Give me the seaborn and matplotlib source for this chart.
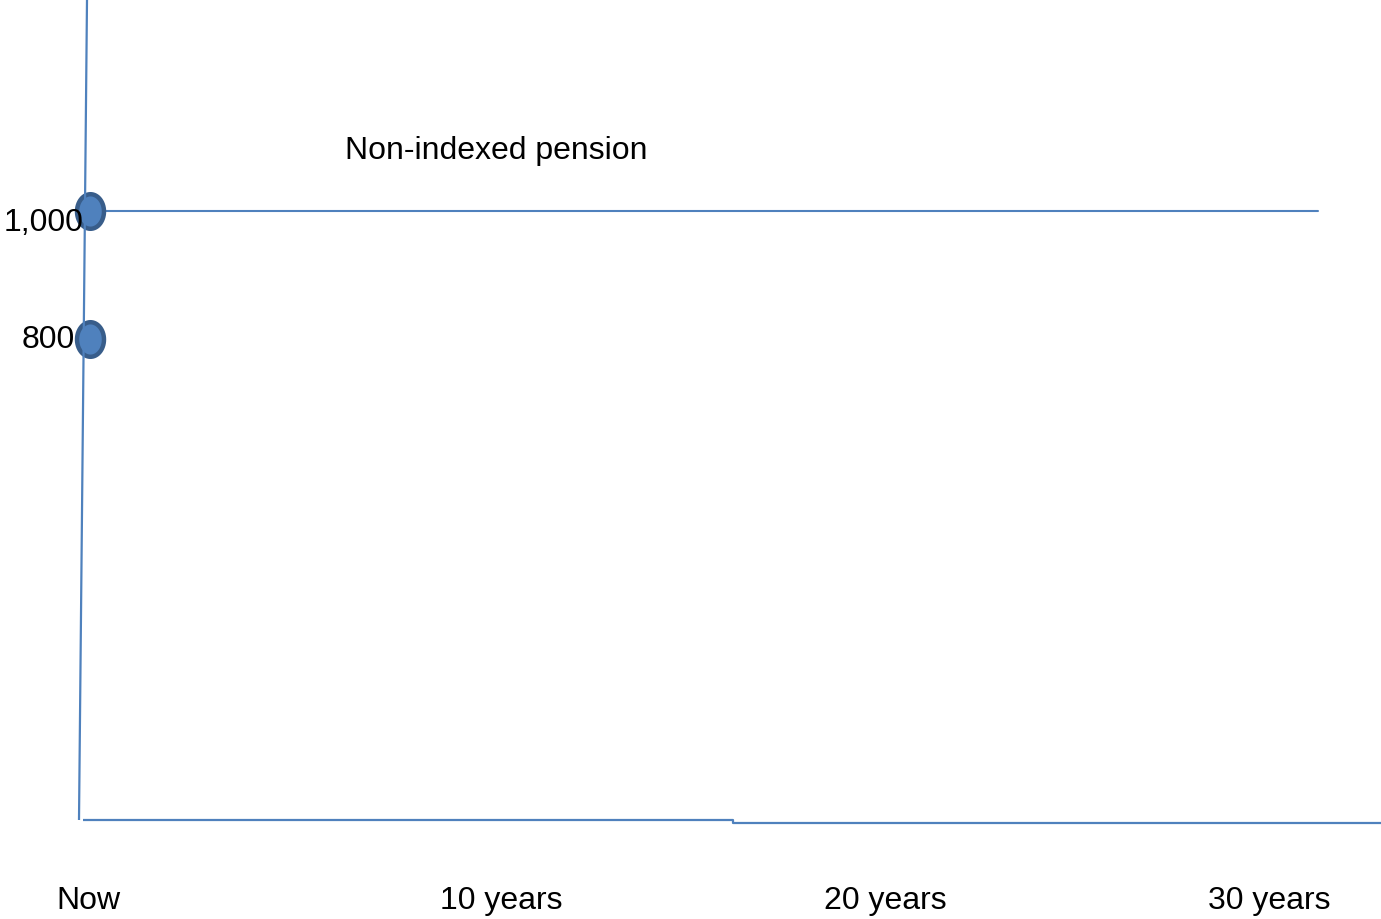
import numpy as np
import pandas as pd
import matplotlib
matplotlib.use("Agg")
import matplotlib.pyplot as plt
from matplotlib.lines import Line2D
from matplotlib.path import Path
import seaborn as sns

# ---- data ----
years = [0, 32]
pension_level = [1000, 1000]
start_points = [1000, 800]
y_tick_values = [1000, 800]
y_tick_labels = ["1,000", "800"]
x_tick_labels = ["Now", "10 years", "20 years", "30 years"]
series_label = "Non-indexed pension"

# ---- style ----
sns.set_theme(style="white")
plt.rcParams["font.family"] = ["Liberation Sans", "DejaVu Sans"]
BLUE = "#4F81BD"
EDGE = "#385D8A"
FS = 23

W, H = 1381, 919
fig = plt.figure(figsize=(W / 100, H / 100), dpi=100)
ax = fig.add_axes([0, 0, 1, 1])
ax.set_axis_off()

# pixel-consistent data limits
px_per_year = 1228 / 32
ax.set_xlim(-90 / px_per_year, (W - 90) / px_per_year)
ax.set_ylim(1000 - (H - 211) / 0.64, 1000 + 211 / 0.64)


def fx(px):
    return px / W


def fy(py):
    return 1 - py / H


# axis lines drawn in figure coordinates
for xs, ys in [([87, 79], [0, 820]),
               ([83, 733, 733, W], [820, 820, 823, 823])]:
    fig.add_artist(Line2D([fx(v) for v in xs], [fy(v) for v in ys],
                          color=BLUE, lw=1.6, solid_capstyle="butt"))

# flat pension line
line_df = pd.DataFrame({"year": years, "value": pension_level})
sns.lineplot(data=line_df, x="year", y="value", color=BLUE, lw=1.5, ax=ax,
             zorder=2)

# starting-point markers (tall ellipses)
t = np.linspace(0, 2 * np.pi, 60)
ellipse = Path(np.column_stack([0.78 * np.cos(t), np.sin(t)]), closed=True)
pts = pd.DataFrame({"year": [0] * len(start_points), "value": start_points})
sns.scatterplot(data=pts, x="year", y="value", marker=ellipse, s=620,
                color=BLUE, edgecolor=EDGE, linewidth=3.2, ax=ax, zorder=4)

# y value labels
y_offsets = [(83, 223), (75, 340)]
for (px, py), lab in zip(y_offsets, y_tick_labels):
    fig.text(fx(px), fy(py), lab, ha="right", va="center", fontsize=FS,
             color="black", zorder=3)

# x labels
x_label_px = [88, 501, 885, 1269]
for px, lab in zip(x_label_px, x_tick_labels):
    fig.text(fx(px), fy(901), lab, ha="center", va="center", fontsize=FS,
             color="black")

# series label
fig.text(fx(496), fy(151), series_label, ha="center", va="center",
         fontsize=FS, color="black")

fig.savefig("out.png", dpi=100)
